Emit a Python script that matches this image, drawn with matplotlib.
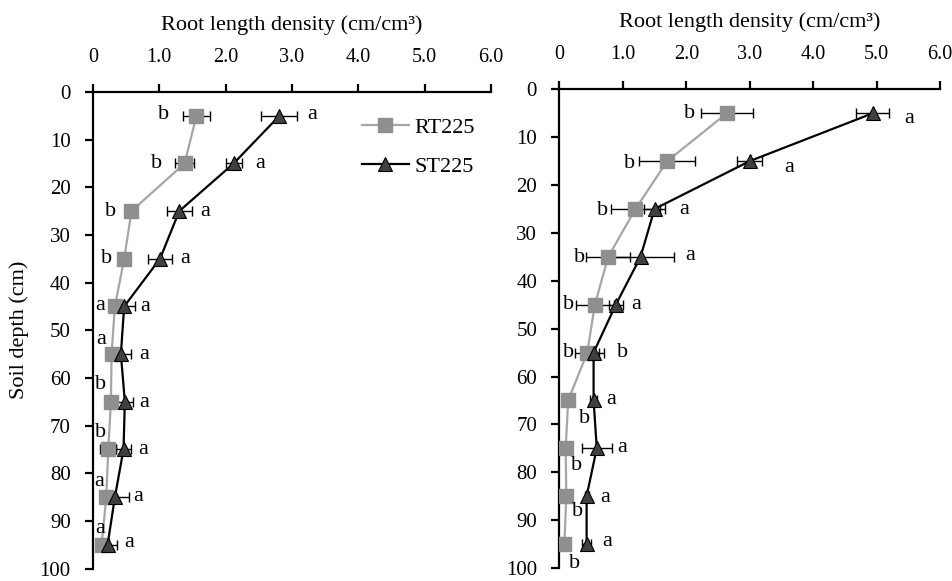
import matplotlib
matplotlib.use("Agg")
import matplotlib.pyplot as plt

plt.rcParams["font.family"] = ["Liberation Serif", "DejaVu Serif"]
plt.rcParams["font.size"] = 15

depth = [5, 15, 25, 35, 45, 55, 65, 75, 85, 95]
x_ticks = [0, 1, 2, 3, 4, 5, 6]
x_ticklabels = ["0", "1.0", "2.0", "3.0", "4.0", "5.0", "6.0"]
y_ticks = [0, 10, 20, 30, 40, 50, 60, 70, 80, 90, 100]

# left panel
rt_left = [1.56, 1.38, 0.58, 0.47, 0.33, 0.28, 0.27, 0.23, 0.20, 0.13]
rt_left_err = [0.21, 0.14, 0.05, 0.05, 0.05, 0.04, 0.04, 0.12, 0.04, 0.04]
st_left = [2.81, 2.12, 1.30, 1.01, 0.47, 0.42, 0.48, 0.46, 0.33, 0.22]
st_left_err = [0.27, 0.12, 0.19, 0.18, 0.16, 0.16, 0.13, 0.12, 0.21, 0.14]
rt_left_letters = ["b", "b", "b", "b", "a", "a", "b", "b", "a", "a"]
st_left_letters = ["a"] * 10

# right panel
rt_right = [2.64, 1.70, 1.20, 0.77, 0.56, 0.44, 0.14, 0.10, 0.11, 0.08]
rt_right_err = [0.41, 0.44, 0.38, 0.35, 0.30, 0.19, 0.05, 0.03, 0.03, 0.03]
st_right = [4.94, 3.00, 1.50, 1.28, 0.89, 0.54, 0.54, 0.59, 0.43, 0.43]
st_right_err = [0.26, 0.20, 0.17, 0.52, 0.11, 0.16, 0.05, 0.24, 0.03, 0.07]
rt_right_letters = ["b"] * 10
st_right_letters = ["a", "a", "a", "a", "a", "b", "a", "a", "a", "a"]

# where the significance letters sit (value, depth)
rt_left_pos = [(1.06, 4.8), (0.96, 15), (0.26, 25), (0.21, 35), (0.11, 44.8),
               (0.12, 51.9), (0.11, 61.4), (0.12, 71.5), (0.10, 81.8), (0.11, 91.5)]
st_left_pos = [(3.31, 4.8), (2.52, 15), (1.69, 25), (1.39, 35), (0.79, 45),
               (0.77, 55), (0.77, 65.2), (0.76, 75), (0.68, 84.9), (0.54, 94.6)]
rt_right_pos = [(2.05, 5.0), (1.11, 15.4), (0.68, 25.4), (0.32, 35.1), (0.14, 45),
                (0.14, 55), (0.39, 68.8), (0.27, 78.5), (0.28, 88.2), (0.24, 99.1)]
st_right_pos = [(5.51, 6.0), (3.62, 16.4), (1.96, 25.1), (2.06, 34.8), (1.21, 45),
                (0.99, 55), (0.82, 64.9), (0.99, 74.8), (0.73, 85.2), (0.75, 94.4)]

RT_LINE = "#a6a6a6"
RT_MARK = "#8f8f8f"
ST_MARK = "#404040"


def draw_panel(ax, rt, rt_err, st, st_err, rt_lab, st_lab, rt_pos, st_pos):
    ax.errorbar(rt, depth, xerr=rt_err, fmt="none", ecolor="black",
                elinewidth=1, capsize=3.5, capthick=1, zorder=2)
    ax.errorbar(st, depth, xerr=st_err, fmt="none", ecolor="black",
                elinewidth=1, capsize=3.5, capthick=1, zorder=2)
    ax.plot(rt, depth, color=RT_LINE, lw=1.6, marker="s", ms=9.5,
            mfc=RT_MARK, mec=RT_MARK, zorder=3, label="RT225")
    ax.plot(st, depth, color="black", lw=1.6, marker="^", ms=9.5,
            mfc=ST_MARK, mec="black", mew=0.8, zorder=4, label="ST225")
    for lab, (x, y) in zip(rt_lab, rt_pos):
        ax.text(x, y, lab, ha="center", va="center", fontsize=16)
    for lab, (x, y) in zip(st_lab, st_pos):
        ax.text(x, y, lab, ha="center", va="center", fontsize=16)

    ax.set_xlim(0, 6)
    ax.set_ylim(100, 0)
    ax.set_xticks(x_ticks)
    ax.set_xticklabels(x_ticklabels)
    ax.set_yticks(y_ticks)
    ax.xaxis.tick_top()
    ax.xaxis.set_label_position("top")
    ax.set_xlabel("Root length density (cm/cm³)", fontsize=16, labelpad=13)
    for s in ["right", "bottom"]:
        ax.spines[s].set_visible(False)
    for s in ["top", "left"]:
        ax.spines[s].set_linewidth(1.6)
        ax.spines[s].set_clip_on(False)
    ax.tick_params(axis="both", direction="out", length=6, width=1.6, pad=4)
    ax.tick_params(axis="x", pad=12, labelsize=14.5)
    ax.tick_params(axis="y", pad=10)


fig = plt.figure(figsize=(9.53, 5.81), dpi=100)
ax1 = fig.add_axes([0.0976, 0.0215, 0.4176, 0.8202])
ax2 = fig.add_axes([0.5869, 0.0224, 0.3996, 0.8239])

draw_panel(ax1, rt_left, rt_left_err, st_left, st_left_err,
           rt_left_letters, st_left_letters, rt_left_pos, st_left_pos)
draw_panel(ax2, rt_right, rt_right_err, st_right, st_right_err,
           rt_right_letters, st_right_letters, rt_right_pos, st_right_pos)

ax1.set_ylabel("Soil depth (cm)", fontsize=16, labelpad=8)
ax1.legend(loc="upper left", bbox_to_anchor=(0.676, 0.947), frameon=False,
           borderpad=0, borderaxespad=0, handlelength=2.1, handletextpad=0.25,
           labelspacing=0.85, fontsize=16)

fig.savefig("out.png", dpi=100)
